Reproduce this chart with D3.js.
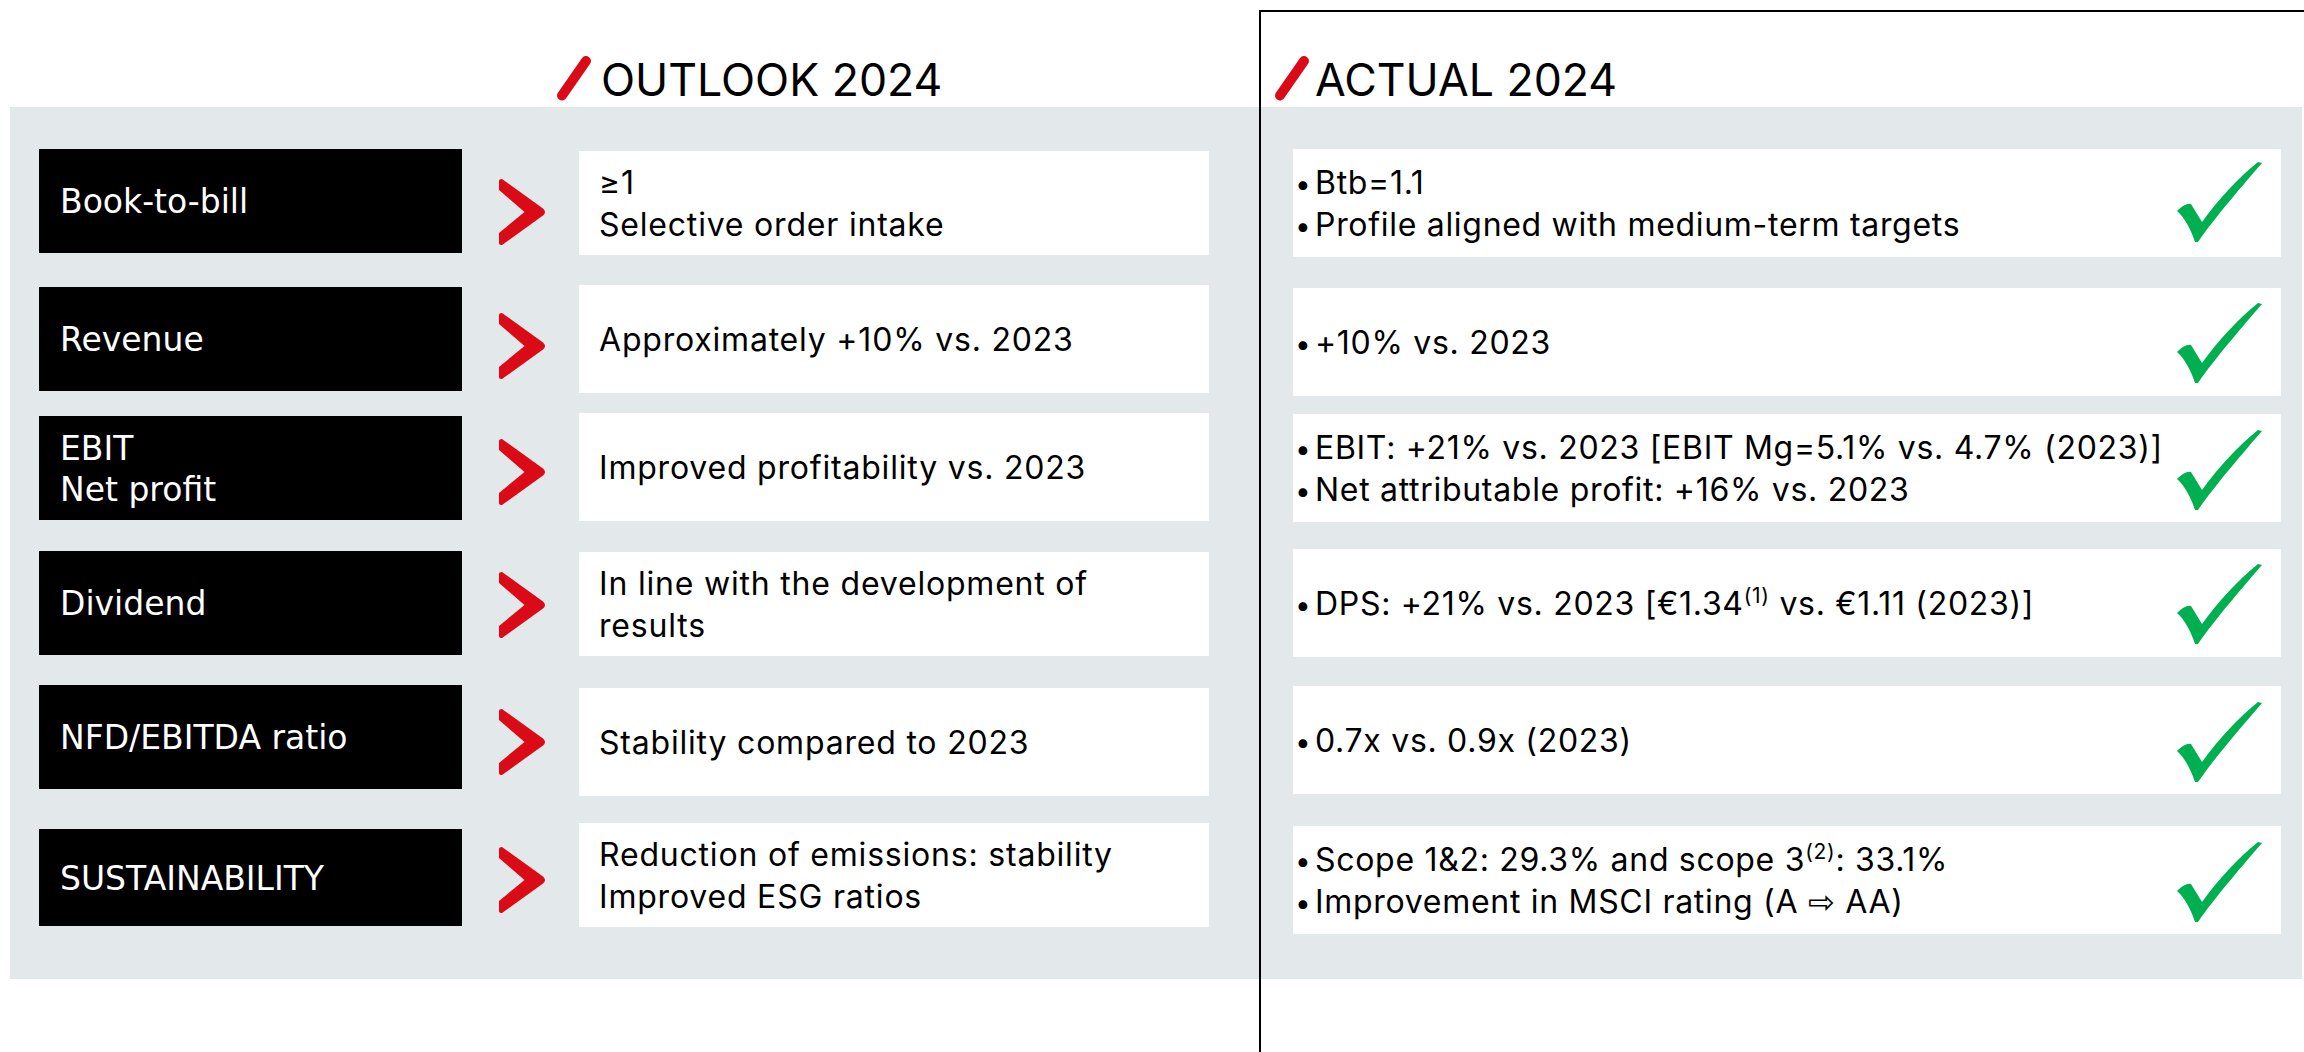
<!DOCTYPE html>
<html><head><meta charset="utf-8">
<script src="https://cdn.jsdelivr.net/npm/d3@7"></script>
<style>html,body{margin:0;padding:0;background:#fff;overflow:hidden}</style>
</head><body><svg id="c" width="2304" height="1052"></svg>
<script>
// ---------- data ----------
const columnTitles = ["OUTLOOK 2024", "ACTUAL 2024"];
const categories = [
  ["Book-to-bill"],
  ["Revenue"],
  ["EBIT", "Net profit"],
  ["Dividend"],
  ["NFD/EBITDA ratio"],
  ["SUSTAINABILITY"]
];
const outlook2024 = [
  ["≥1", "Selective order intake"],
  ["Approximately +10% vs. 2023"],
  ["Improved profitability vs. 2023"],
  ["In line with the development of", "results"],
  ["Stability compared to 2023"],
  ["Reduction of emissions: stability", "Improved ESG ratios"]
];
const actual2024 = [
  ["Btb=1.1", "Profile aligned with medium-term targets"],
  ["+10% vs. 2023"],
  ["EBIT: +21% vs. 2023 [EBIT Mg=5.1% vs. 4.7% (2023)]", "Net attributable profit: +16% vs. 2023"],
  ["DPS: +21% vs. 2023 [€1.34{(1)} vs. €1.11 (2023)]"],
  ["0.7x vs. 0.9x (2023)"],
  ["Scope 1&2: 29.3% and scope 3{(2)}: 33.1%", "Improvement in MSCI rating (A ⇨ AA)"]
];
const achieved = [true, true, true, true, true, true];

// ---------- layout (positions only) ----------
const labelBoxes   = [[149,253],[287,391],[416,520],[551,655],[685,789],[829,926]];
const outlookBoxes = [[151,255],[285,393],[413,521],[552,656],[688,796],[823,927]];
const actualBoxes  = [[149,257],[288,396],[414,522],[549,657],[686,794],[826,934]];
const chevronMid   = [212,346,472,605,742,880];
const checkMid     = [202,343,470,604,742,882];

const RED = "#da0b17", GREEN = "#00b050", GREY = "#e3e8eb";
const BODY_FONT = "Inter, 'DejaVu Sans', sans-serif";
const idx = categories.map((d,i)=>i);
const yLabel   = d3.scaleOrdinal().domain(idx).range(labelBoxes);
const yOutlook = d3.scaleOrdinal().domain(idx).range(outlookBoxes);
const yActual  = d3.scaleOrdinal().domain(idx).range(actualBoxes);
const yChev    = d3.scaleOrdinal().domain(idx).range(chevronMid);
const yCheck   = d3.scaleOrdinal().domain(idx).range(checkMid);
const xCol     = d3.scaleOrdinal().domain(columnTitles).range([601, 1315]);

const svg = d3.select("#c");

// grey panel
svg.append("rect").attr("x",10).attr("y",107).attr("width",2292).attr("height",872).attr("fill",GREY);

// headers
const hdr = svg.append("g").selectAll("g").data(columnTitles).join("g");
hdr.append("line")
  .attr("x1", d => xCol(d) - 39 + (d===columnTitles[0]?0:4))
  .attr("y1", 95.5)
  .attr("x2", d => xCol(d) - 15 + (d===columnTitles[0]?0:4))
  .attr("y2", 61)
  .attr("stroke", RED).attr("stroke-width", 10).attr("stroke-linecap","round");
hdr.append("text")
  .attr("x", d => xCol(d)).attr("y", 96)
  .attr("font-family","Inter, 'Noto Sans', sans-serif").attr("font-size",44.6)
  .attr("fill","#000").text(d=>d);

function placeLines(lines, top, bottom, lh, capH){
  const cy = (top+bottom)/2, n = lines.length;
  return lines.map((l,k)=> cy + (k-(n-1)/2)*lh + capH/2);
}
function addRich(textSel, str){
  const parts = str.split(/(\{[^}]*\})/).filter(s=>s.length);
  let pendingDy = 0;
  parts.forEach(p=>{
    if(p.startsWith("{")){
      textSel.append("tspan").attr("font-size",21).attr("dy",-12).text(p.slice(1,-1));
      pendingDy = 12;
    } else {
      const t = textSel.append("tspan").text(p);
      if(pendingDy){ t.attr("dy",pendingDy); pendingDy = 0; }
    }
  });
}

const rows = svg.append("g").selectAll("g").data(idx).join("g");

// label boxes
rows.append("rect").attr("x",39).attr("width",423)
  .attr("y", i=>yLabel(i)[0]).attr("height", i=>yLabel(i)[1]-yLabel(i)[0]).attr("fill","#000");
rows.each(function(i){
  const g = d3.select(this);
  const [t,b] = yLabel(i);
  const ys = placeLines(categories[i], t, b, 41, 24);
  categories[i].forEach((l,k)=>{
    g.append("text").attr("x",60).attr("y",ys[k])
      .attr("font-family","'DejaVu Sans', sans-serif").attr("font-size",33)
      .attr("fill","#fff").text(l);
  });
});

// chevrons
rows.append("path")
  .attr("transform", i=>`translate(499,${yChev(i)})`)
  .attr("d","M0,-31 Q0,-33 3,-33 L44,-3.5 Q46,-2 46,0 Q46,2 44,3.5 L3,33 Q0,33 0,31 L0,21 L25.5,0 L0,-22 Z")
  .attr("fill",RED);

// outlook boxes
rows.append("rect").attr("x",579).attr("width",630)
  .attr("y", i=>yOutlook(i)[0]).attr("height", i=>yOutlook(i)[1]-yOutlook(i)[0]).attr("fill","#fff");
rows.each(function(i){
  const g = d3.select(this);
  const [t,b] = yOutlook(i);
  const ys = placeLines(outlook2024[i], t, b, 42, 23);
  outlook2024[i].forEach((l,k)=>{
    g.append("text").attr("x",599).attr("y",ys[k])
      .attr("font-family",BODY_FONT).attr("font-size",32).attr("letter-spacing",0.8)
      .attr("fill","#000").text(l);
  });
});

// actual boxes
rows.append("rect").attr("x",1293).attr("width",988)
  .attr("y", i=>yActual(i)[0]).attr("height", i=>yActual(i)[1]-yActual(i)[0]).attr("fill","#fff");
rows.each(function(i){
  const g = d3.select(this);
  const [t,b] = yActual(i);
  const ys = placeLines(actual2024[i], t, b, 42, 23);
  actual2024[i].forEach((l,k)=>{
    g.append("text").attr("x",1295).attr("y",ys[k])
      .attr("font-family",BODY_FONT).attr("font-size",28)
      .attr("fill","#000").text("•");
    const tx = g.append("text").attr("x",1315).attr("y",ys[k])
      .attr("font-family",BODY_FONT).attr("font-size",32).attr("letter-spacing",0.7)
      .attr("fill","#000");
    addRich(tx, l);
  });
});

// check marks
rows.filter(i=>achieved[i]).append("path")
  .attr("transform", i=>`translate(2160,${yCheck(i)-52})`)
  .attr("d","M17,61 C22,56 27,53 31,54 L42,72 C58,50 78,28 98,12 L102,13 C84,34 56,66 38,92 L35,92 C31,80 25,68 17,61 Z")
  .attr("fill",GREEN);

// frame line
svg.append("path").attr("d","M1260,1053 L1260,11 L2306,11")
  .attr("stroke","#000").attr("stroke-width",2).attr("fill","none");
</script>
</body></html>
